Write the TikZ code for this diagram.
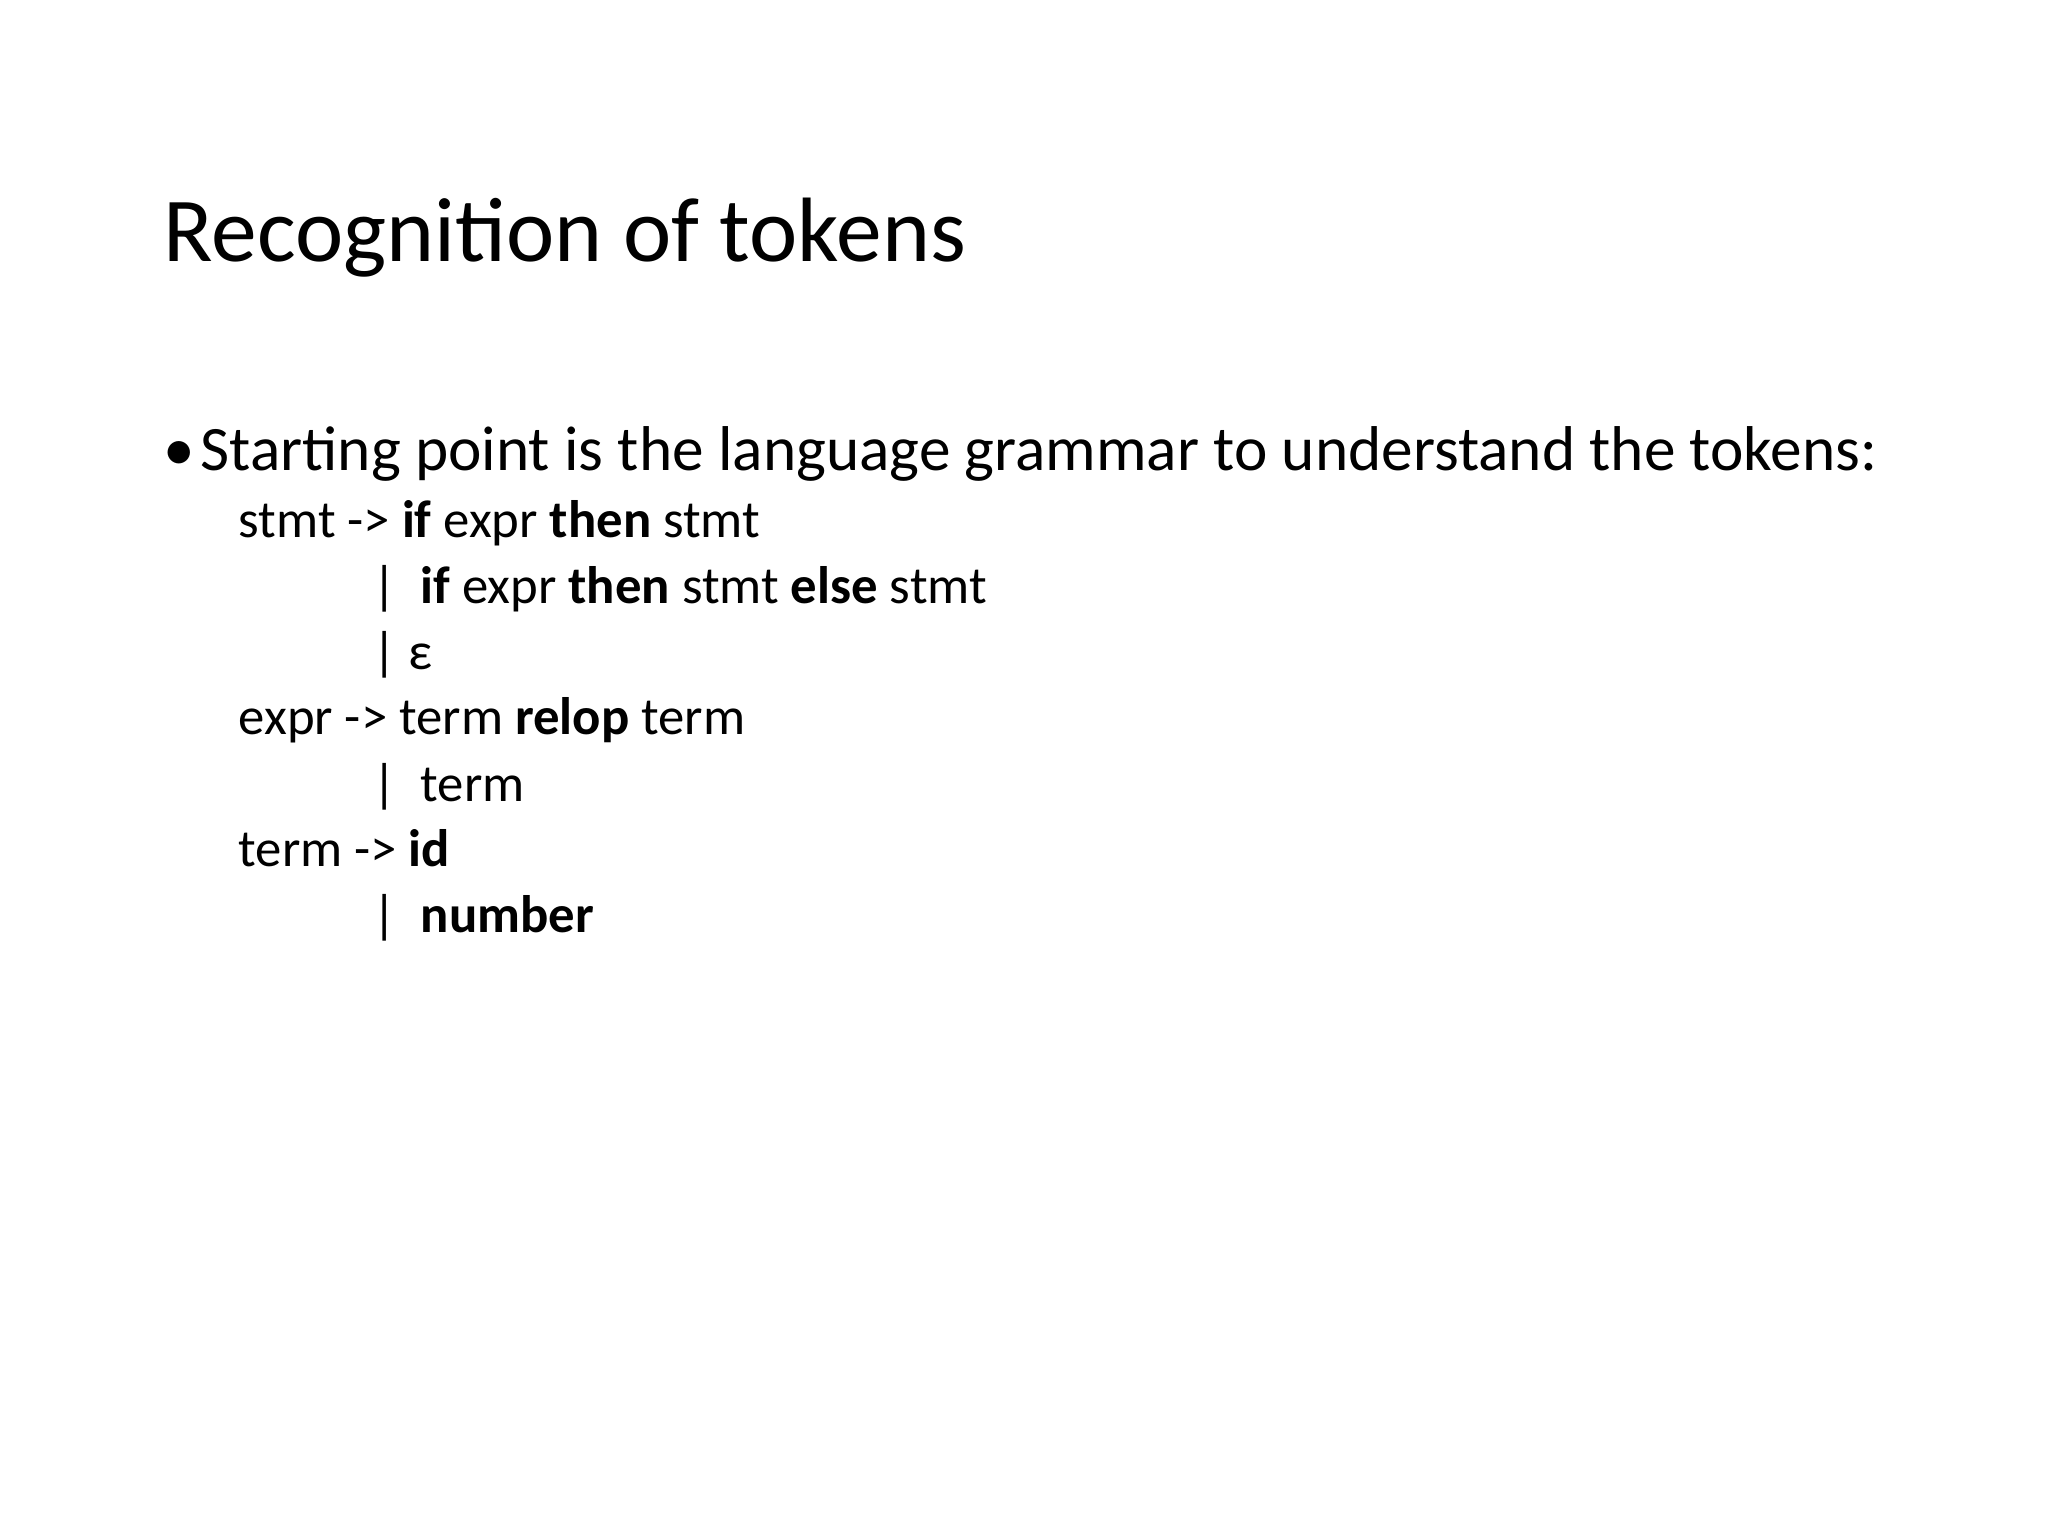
\documentclass[tikz,border=0pt]{standalone}
\usepackage{fontspec}
\setmainfont{Carlito}
\begin{document}
\begin{tikzpicture}[x=0.01cm,y=-0.01cm,
  txt/.style={anchor=base west,inner sep=0pt,font=\fontsize{15pt}{18pt}\selectfont}]
\useasboundingbox (0,0) rectangle (2048,1536);
\node[anchor=base west,inner sep=0pt,font=\fontsize{26pt}{30pt}\selectfont] (title) at (163,261) {Recognition of tokens};
\node[anchor=base west,inner sep=0pt,font=\fontsize{18pt}{22pt}\selectfont] (bul) at (163,470) {•};
\node[anchor=base west,inner sep=0pt,font=\fontsize{18pt}{22pt}\selectfont] (b1) at (200,470) {Starting point is the language grammar to understand the tokens:};
\node[txt] (g1) at (238,537) {stmt -> \textbf{if} expr \textbf{then} stmt};
\node[txt] (g2) at (372,603) {|\hspace{0.45em}\textbf{if} expr \textbf{then} stmt \textbf{else} stmt};
\node[txt] (g3) at (372,669) {| ε};
\node[txt] (g4) at (238,734) {expr -> term \textbf{relop} term};
\node[txt] (g5) at (372,801) {|\hspace{0.45em}term};
\node[txt] (g6) at (238,866) {term -> \textbf{id}};
\node[txt] (g7) at (372,932) {|\hspace{0.45em}\textbf{number}};
\end{tikzpicture}
\end{document}
